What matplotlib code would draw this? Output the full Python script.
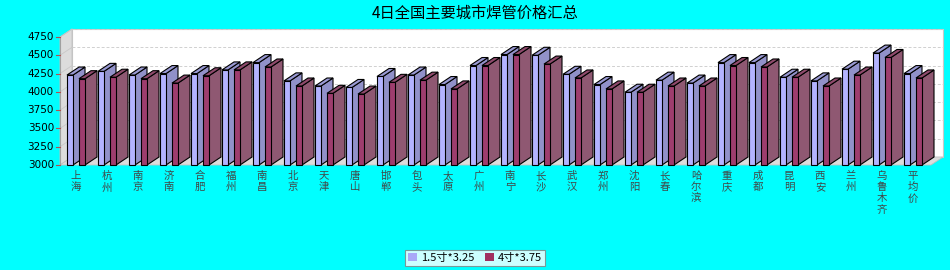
import matplotlib
matplotlib.use('Agg')
from matplotlib import pyplot as plt
from matplotlib.patches import Polygon, Patch

plt.rcParams['font.family'] = ['Noto Sans CJK SC', 'DejaVu Sans']

title = '4日全国主要城市焊管价格汇总'
cities = ['上海', '杭州', '南京', '济南', '合肥', '福州', '南昌', '北京', '天津', '唐山',
          '邯郸', '包头', '太原', '广州', '南宁', '长沙', '武汉', '郑州', '沈阳', '长春',
          '哈尔滨', '重庆', '成都', '昆明', '西安', '兰州', '乌鲁木齐', '平均价']
labels = ['1.5寸*3.25', '4寸*3.75']
small = [4230, 4280, 4230, 4250, 4250, 4300, 4400, 4150, 4080, 4060,
         4210, 4230, 4100, 4360, 4510, 4500, 4240, 4100, 3995, 4160,
         4120, 4400, 4400, 4200, 4150, 4310, 4530, 4250]
big = [4180, 4200, 4180, 4120, 4220, 4300, 4340, 4080, 3980, 3970,
       4130, 4160, 4040, 4360, 4510, 4380, 4190, 4040, 3995, 4080,
       4080, 4360, 4340, 4200, 4080, 4230, 4470, 4190]
yticks = [3000, 3250, 3500, 3750, 4000, 4250, 4500, 4750]

W, H = 950, 270
fig = plt.figure(figsize=(W / 100, H / 100), dpi=100, facecolor='#00ffff')

# front plane of the 3d box, in pixels
px_left, px_right, px_bottom, px_top = 60, 931, 165, 37
step = 31.0
ax = fig.add_axes([px_left / W, (H - px_bottom) / H,
                   (px_right - px_left) / W, (px_bottom - px_top) / H])
ax.set_axis_off()
x0 = -16 / step
x1 = x0 + (px_right - px_left) / step
y0, y1 = 3000, 4750
ax.set_xlim(x0, x1)
ax.set_ylim(y0, y1)

upp = (y1 - y0) / (px_bottom - px_top)   # value units per pixel
dx = 12 / step
dy = 8 * upp

def poly(pts, fc, ec='none', lw=0.8, z=1):
    ax.add_patch(Polygon(pts, closed=True, facecolor=fc, edgecolor=ec,
                         linewidth=lw, zorder=z, clip_on=False))

# walls
poly([(x0 + dx, y0 + dy), (x1 + dx, y0 + dy), (x1 + dx, y1 + dy), (x0 + dx, y1 + dy)],
     'white', '#c8c8c8', 0.8, 0)
poly([(x0, y0), (x0 + dx, y0 + dy), (x0 + dx, y1 + dy), (x0, y1)], '#dcdcdc', '#c0c0c0', 0.6, 0)
poly([(x0, y0), (x1, y0), (x1 + dx, y0 + dy), (x0 + dx, y0 + dy)], '#dcdcdc', '#c0c0c0', 0.6, 0)

for t in yticks[1:]:
    ax.plot([x0 + dx, x1 + dx], [t + dy, t + dy], color='#d0d0d0', lw=0.7,
            ls=(0, (3, 2)), zorder=0.5, clip_on=False)
    ax.plot([x0, x0 + dx], [t, t + dy], color='#c8c8c8', lw=0.6, zorder=0.5, clip_on=False)

ax.plot([x0, x0], [y0, y1], color='#a0a0a0', lw=0.8, zorder=2, clip_on=False)
tick_len = 4 / step
for t in yticks:
    ax.plot([x0 - tick_len, x0], [t, t], color='#b05050', lw=0.8, zorder=2, clip_on=False)
    ax.text(x0 - 6 / step, t, str(t), ha='right', va='center', fontsize=7.5,
            color='black', family='DejaVu Sans')

# 3d bars
bw = 6 / step
offs = [-6 / step, 6 / step]
front_c = ['#b3b3ff', '#9e3d6e']
side_c = ['#9191c9', '#8f5872']
top_c = ['#9a9ad4', '#8f4a6c']
z = 3
for i in range(len(cities)):
    for s, vals in enumerate([small, big]):
        v = vals[i]
        l = i + offs[s] - bw / 2
        r = l + bw
        poly([(r, y0), (r + dx, y0 + dy), (r + dx, v + dy), (r, v)], side_c[s], 'black', 0.8, z)
        poly([(l, v), (r, v), (r + dx, v + dy), (l + dx, v + dy)], top_c[s], 'black', 0.8, z)
        poly([(l, y0), (r, y0), (r, v), (l, v)], front_c[s], 'black', 0.8, z)
        z += 1

# vertical category labels
for i, c in enumerate(cities):
    ax.text(i, y0 - 6 * upp, '\n'.join(c), ha='center', va='top', fontsize=7.5,
            color='#404848', linespacing=1.15)

fig.text(0.5, 1 - 13 / H, title, ha='center', va='center', fontsize=11)

handles = [Patch(facecolor='#a8a8f8', edgecolor='none'), Patch(facecolor='#a03060', edgecolor='none')]
leg = fig.legend(handles, labels, loc='center', bbox_to_anchor=(475 / W, 1 - 258 / H),
                 ncol=2, fontsize=8, frameon=True, fancybox=False, handlelength=0.8,
                 handleheight=0.8, handletextpad=0.3, columnspacing=1.0, borderpad=0.3,
                 borderaxespad=0)
leg.get_frame().set_edgecolor('#808080')
leg.get_frame().set_linewidth(0.8)

plt.savefig('out.png', dpi=100, facecolor=fig.get_facecolor())
